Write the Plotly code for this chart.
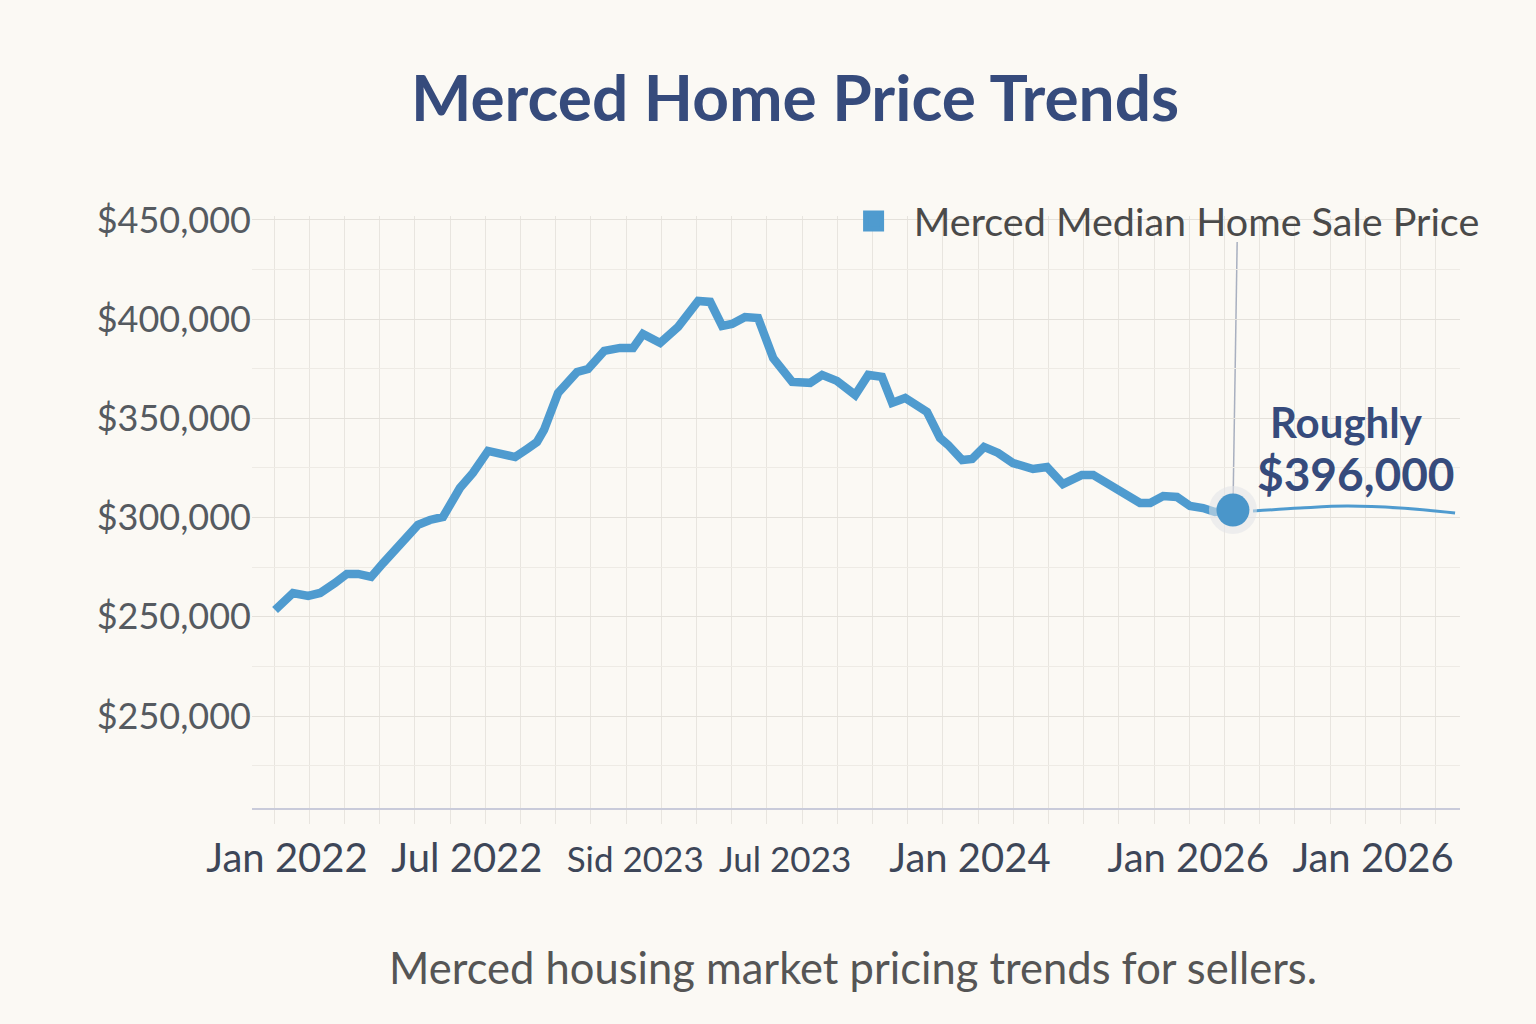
import plotly.graph_objects as go

# ---------------- data ----------------
title_text = "Merced Home Price Trends"
subtitle_text = "Merced housing market pricing trends for sellers."
series_name = "Merced Median Home Sale Price"
callout_lines = ["Roughly", "$396,000"]

# months since the first grid column
months = [0.03, 0.54, 0.97, 1.31, 1.73, 2.07, 2.39, 2.76, 3.10, 3.58,
          4.09, 4.43, 4.80, 5.28, 5.65, 6.08, 6.42, 6.85, 7.19, 7.47,
          7.67, 7.87, 8.07, 8.61, 8.92, 9.38, 9.83, 10.20, 10.48, 10.97,
          11.48, 12.05, 12.39, 12.73, 13.01, 13.38, 13.75, 14.18, 14.72, 15.23,
          15.57, 15.99, 16.51, 16.88, 17.27, 17.56, 17.93, 18.55, 18.92, 19.15,
          19.55, 19.83, 20.17, 20.57, 20.99, 21.56, 21.96, 22.41, 22.95, 23.27,
          23.66, 23.98, 24.32, 24.60, 24.89, 25.26, 25.65, 26.02, 26.39, 26.73,
          27.24]
prices = [253400, 262000, 260500, 262000, 267000, 271600, 271600, 270100, 277100, 286700,
          296300, 298800, 300300, 314900, 322500, 333600, 332600, 330500, 334600, 338100,
          344200, 353700, 362800, 373400, 374900, 384000, 385500, 385500, 392500, 388000,
          396100, 409200, 408700, 396600, 397600, 401100, 400600, 380400, 368400, 367900,
          371900, 368900, 361800, 371900, 370900, 357800, 360300, 353200, 340100, 336600,
          329000, 329500, 335600, 332600, 327500, 324500, 325500, 316900, 321500, 321500,
          317400, 314900, 311400, 307400, 307400, 310900, 310400, 305900, 304800, 302800,
          303800]

# thin projection tail after the highlighted point
tail_months = [27.81, 29.15, 30.48, 31.99, 33.55]
tail_prices = [303300, 304800, 305800, 304800, 302300]

x_tick_pos = [0.37, 5.48, 10.26, 14.52, 19.77, 25.97, 31.22]
x_tick_labels = ["Jan 2022", "Jul 2022", "Sid 2023", "Jul 2023", "Jan 2024", "Jan 2026", "Jan 2026"]

y_tick_vals = [200000, 250000, 300000, 350000, 400000, 450000]
y_tick_labels = ["$250,000", "$250,000", "$300,000", "$350,000", "$400,000", "$450,000"]

# ---------------- style ----------------
BG = "#fbf9f4"
LINE = "#4f9bcf"
NAVY = "#364b7c"
GRID = "#e8e5df"
GRID_MINOR = "#eeebe5"
FONT = "Lato"

x_range = [-0.625, 33.69]
y_range = [153630, 452000]
connector_top = 438900
small_tick_idx = {2, 3}

tick_text = [
    f'<span style="font-size:35px">{t}</span>' if i in small_tick_idx else t
    for i, t in enumerate(x_tick_labels)
]

fig = go.Figure()

fig.add_trace(go.Scatter(
    x=months, y=prices, mode="lines",
    line=dict(color=LINE, width=8.5),
    showlegend=False, hoverinfo="skip",
))

fig.add_trace(go.Scatter(
    x=tail_months, y=tail_prices, mode="lines",
    line=dict(color=LINE, width=3, shape="spline"),
    showlegend=False, hoverinfo="skip",
))

# halo + highlighted point
fig.add_trace(go.Scatter(
    x=[months[-1]], y=[prices[-1]], mode="markers",
    marker=dict(size=48, color="rgba(225,228,232,0.55)"),
    showlegend=False, hoverinfo="skip",
))
fig.add_trace(go.Scatter(
    x=[months[-1]], y=[prices[-1]], mode="markers",
    marker=dict(size=33, color="#4a96ca"),
    showlegend=False,
))

# legend entry (square swatch)
fig.add_trace(go.Scatter(
    x=[None], y=[None], mode="markers", name="\u00a0\u00a0" + series_name,
    marker=dict(symbol="square", size=26, color="#4f9bcf",
                line=dict(color="#4f9bcf", width=5)),
))

fig.add_shape(
    type="line", xref="x", yref="y", layer="below",
    x0=months[-1], y0=prices[-1], x1=months[-1] + 0.12, y1=connector_top,
    line=dict(color="#a9b0c0", width=1.5),
)

fig.add_annotation(
    x=months[-1], y=prices[-1], xref="x", yref="y",
    text=callout_lines[0], showarrow=False,
    xshift=114, yshift=88,
    font=dict(family=FONT, size=42, color=NAVY, weight="bold"),
)
fig.add_annotation(
    x=months[-1], y=prices[-1], xref="x", yref="y",
    text=callout_lines[1], showarrow=False,
    xshift=123, yshift=37,
    font=dict(family=FONT, size=46, color=NAVY, weight="bold"),
)

fig.add_annotation(
    x=0.4975, y=-0.2687, xref="paper", yref="paper",
    text=subtitle_text, showarrow=False, yanchor="middle",
    font=dict(family=FONT, size=43.5, color="#555555"),
)

fig.update_layout(
    width=1536, height=1024,
    paper_bgcolor=BG, plot_bgcolor=BG,
    margin=dict(l=252, r=76, t=216, b=216),
    title=dict(
        text=title_text, x=0.5176, xanchor="center", y=0.904, yanchor="middle",
        font=dict(family=FONT, size=64, color=NAVY, weight="bold"),
    ),
    legend=dict(
        x=0.498, y=0.991, xanchor="left", yanchor="middle",
        bgcolor="rgba(0,0,0,0)",
        font=dict(family=FONT, size=39.5, color="#4a4a4a"),
    ),
    xaxis=dict(
        range=x_range, tickmode="array", tickvals=x_tick_pos, ticktext=tick_text,
        showgrid=False, zeroline=False, ticks="",
        showline=True, linecolor="#c9cbda", linewidth=2,
        tickfont=dict(family=FONT, size=40, color="#3d4658"),
        ticklabelstandoff=14,
        minor=dict(tickmode="linear", tick0=0, dtick=1, showgrid=True, gridcolor=GRID,
                   gridwidth=1, ticks="outside", ticklen=14, tickcolor=GRID),
    ),
    yaxis=dict(
        range=y_range, tickmode="array", tickvals=y_tick_vals, ticktext=y_tick_labels,
        showgrid=True, gridcolor="#e4e1db", gridwidth=1, zeroline=False, ticks="",
        tickfont=dict(family=FONT, size=36, color="#555a60"),
        minor=dict(tickmode="linear", tick0=0, dtick=25000, showgrid=True,
                   gridcolor=GRID_MINOR, gridwidth=1),
    ),
)

fig.write_html("out.html", config={"displayModeBar": False},
               post_script="document.body.style.margin='0';")
